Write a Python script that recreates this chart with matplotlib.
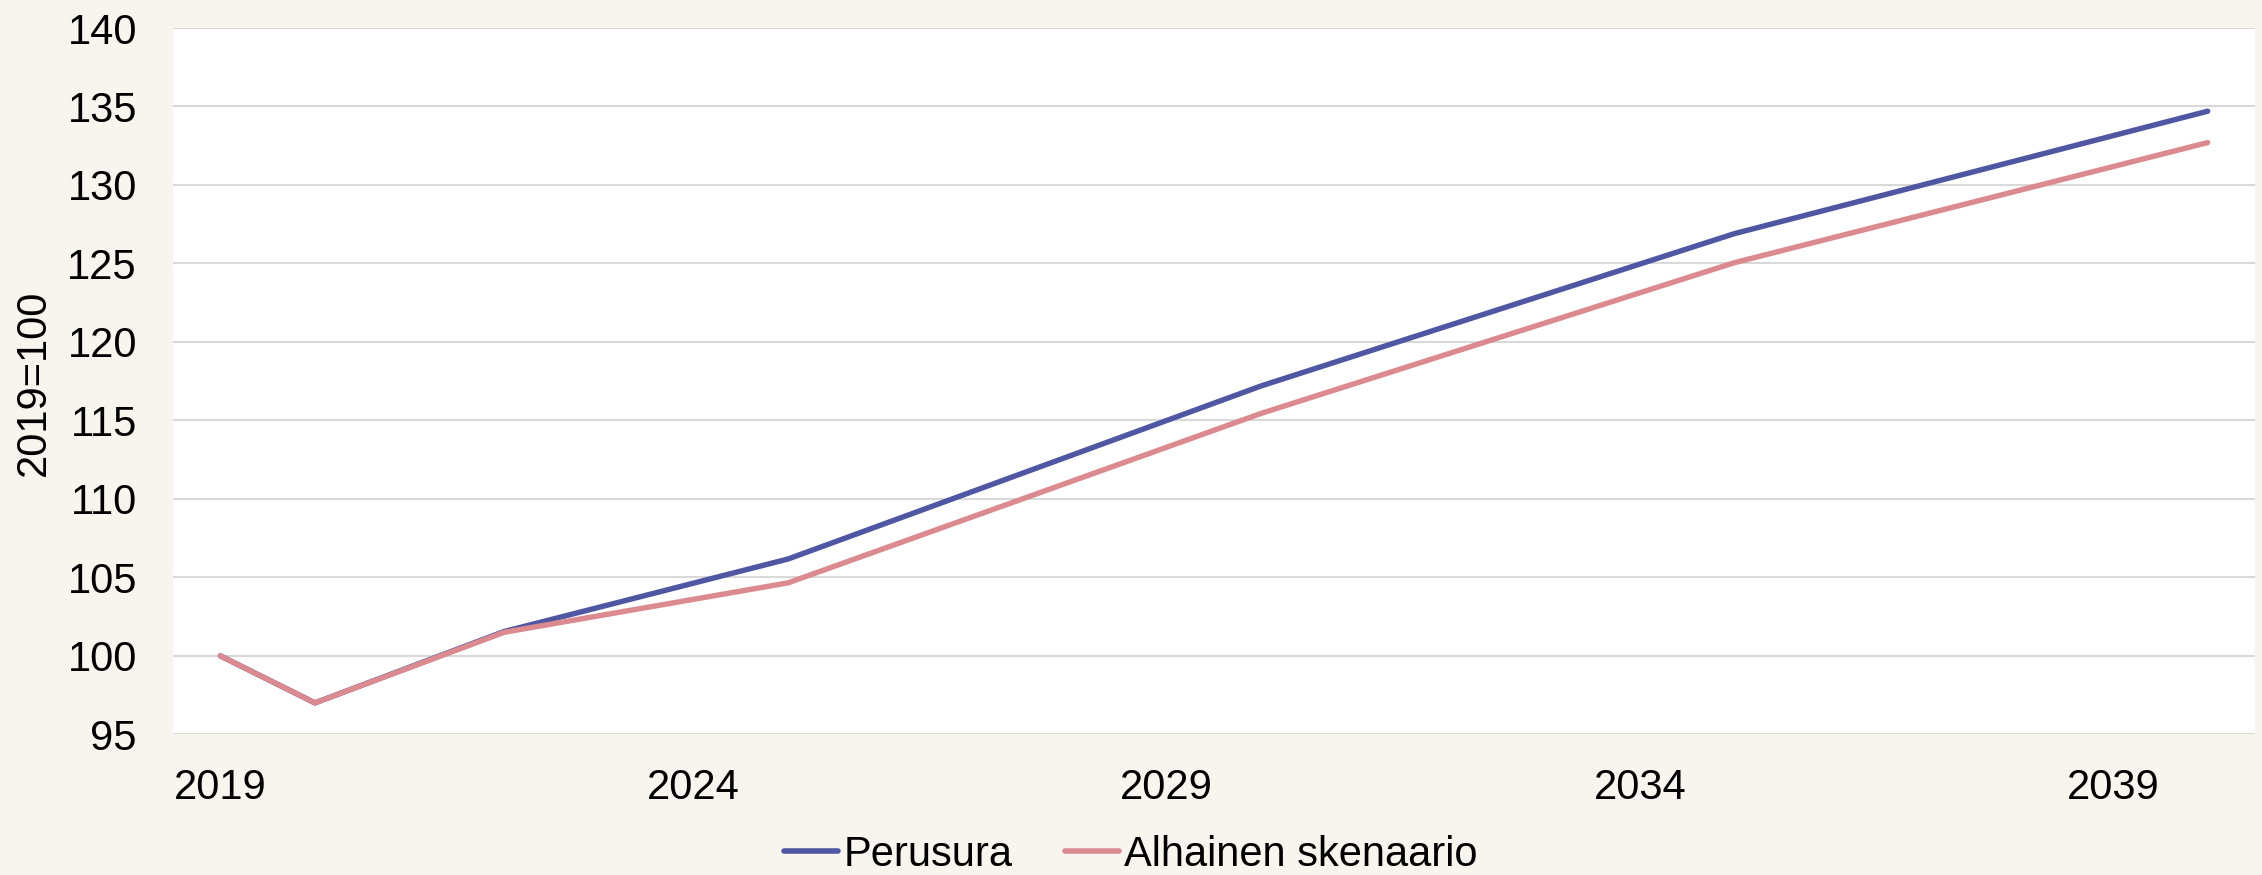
import matplotlib
matplotlib.use("Agg")
import matplotlib.pyplot as plt

years = [2019, 2020, 2022, 2025, 2030, 2035, 2040]
perusura = [100.0, 97.0, 101.55, 106.17, 117.2, 126.9, 134.7]
alhainen = [100.0, 97.0, 101.5, 104.65, 115.45, 125.05, 132.7]
xtick_years = [2019, 2024, 2029, 2034, 2039]
yticks = [95, 100, 105, 110, 115, 120, 125, 130, 135, 140]

plt.rcParams['font.family'] = ['Liberation Sans', 'DejaVu Sans']

W, H = 2262, 875
bg = '#F8F4EE'
fig = plt.figure(figsize=(W / 100, H / 100), dpi=100, facecolor=bg)
left, right, top, bottom = 173, 2255, 28, 734.3
ax = fig.add_axes([left / W, 1 - bottom / H, (right - left) / W, (bottom - top) / H])
ax.set_facecolor('white')

ax.plot(years, perusura, color='#4F57A3', lw=3.9, solid_capstyle='round',
        solid_joinstyle='round', label='Perusura', zorder=3)
ax.plot(years, alhainen, color='#DB8A8F', lw=3.9, solid_capstyle='round',
        solid_joinstyle='round', label='Alhainen skenaario', zorder=3)

ax.set_ylim(95, 140)
ax.set_xlim(2018.5, 2040.5)
ax.set_yticks(yticks)
ax.set_xticks(xtick_years)
ax.set_xticklabels([str(y) for y in xtick_years])
ax.grid(axis='y', color='#D9D9D9', lw=1.5, zorder=0)
ax.grid(axis='x', visible=False)
for s in ax.spines.values():
    s.set_visible(False)
ax.tick_params(axis='both', length=0, labelsize=30, colors='black')
ax.tick_params(axis='y', pad=26)
ax.tick_params(axis='x', pad=24)

fig.text(33.5 / W, 1 - 382.5 / H, '2019=100', rotation=90, ha='center', va='center', fontsize=30)

leg = fig.legend(loc='center', bbox_to_anchor=(0.5, 1 - 855 / H), ncol=2, frameon=False,
                 fontsize=30, handlelength=1.3, handletextpad=0.12, columnspacing=1.27,
                 borderpad=0, borderaxespad=0)
for line in leg.get_lines():
    line.set_linewidth(4.0)
    line.set_solid_capstyle('round')

fig.savefig('out.png', dpi=100, facecolor=bg)
